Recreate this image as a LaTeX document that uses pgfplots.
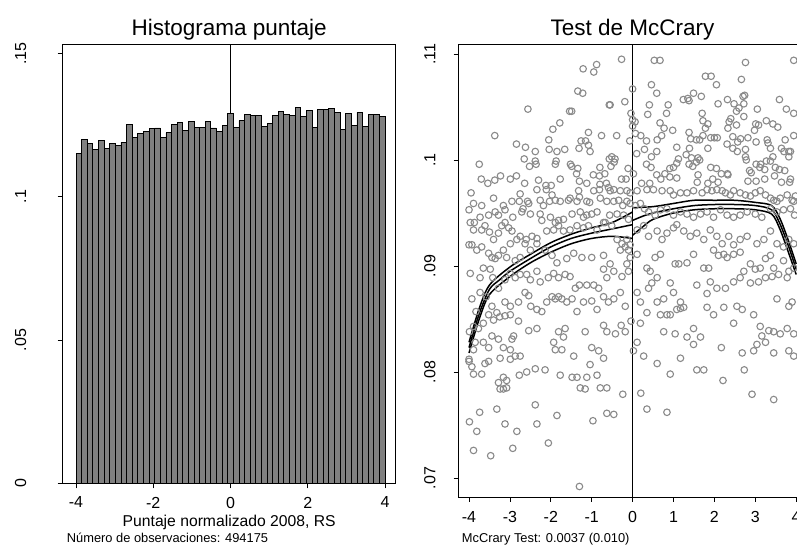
\documentclass[border=0pt]{standalone}
\usepackage{pgfplots}
\pgfplotsset{compat=1.18}
\usepackage{fontspec}
\setmainfont{Liberation Sans}
\definecolor{bargray}{RGB}{128,128,128}
\definecolor{ptgray}{RGB}{138,138,138}
\pgfplotstableread{
x y
-2.56 0.1048
-1.54 0.1046
-1.78 0.1035
-1.95 0.1029
-3.37 0.1023
-2.05 0.1019
-2.84 0.1015
-2.62 0.1012
-2.38 0.1008
-2.04 0.1010
-1.85 0.1008
-1.66 0.1010
-3.75 0.0996
-2.65 0.1001
-2.38 0.0999
-2.52 0.0994
-2.36 0.0996
-1.87 0.0999
-1.89 0.0996
-1.52 0.0996
-3.70 0.0982
-3.54 0.0978
-3.37 0.0981
-3.23 0.0985
-2.99 0.0982
-2.84 0.0985
-2.64 0.0978
-2.30 0.0981
-2.12 0.0976
-1.99 0.0976
-1.77 0.0982
-0.27 0.1095
-1.21 0.1086
-0.95 0.1083
-0.88 0.1090
0.53 0.1094
0.67 0.1094
0.00 0.1067
0.46 0.1071
0.59 0.1063
-1.34 0.1065
-1.22 0.1063
-0.19 0.1055
-0.57 0.1052
-0.55 0.1052
0.41 0.1052
0.87 0.1052
1.24 0.1057
-1.49 0.1046
-0.04 0.1044
0.83 0.1044
0.00 0.1038
0.06 0.1036
0.37 0.1043
0.67 0.1035
0.00 0.1032
0.77 0.1030
0.98 0.1028
-1.08 0.1026
-0.76 0.1023
-0.39 0.1023
0.07 0.1025
0.20 0.1023
0.60 0.1019
0.71 0.1023
-1.26 0.1018
-1.15 0.1018
-0.07 0.1018
0.34 0.1018
-1.31 0.1011
-1.08 0.1014
0.29 0.1010
1.08 0.1012
-1.04 0.1008
0.10 0.1006
0.59 0.1008
-0.51 0.1003
-0.43 0.1001
-0.57 0.1001
-0.45 0.0998
-0.53 0.0994
0.46 0.1003
-1.49 0.0994
-1.34 0.0992
0.34 0.0996
0.45 0.0993
1.12 0.1001
1.08 0.0997
1.00 0.0993
0.91 0.0992
-0.80 0.0993
-0.96 0.0986
-0.81 0.0985
-0.68 0.0987
-0.11 0.0992
-1.37 0.0987
0.59 0.0986
0.69 0.0982
0.79 0.0987
0.91 0.0984
1.08 0.0983
-0.27 0.0982
-0.16 0.0982
0.02 0.0987
-1.30 0.0980
-1.12 0.0978
-0.64 0.0978
-0.80 0.0977
0.22 0.0978
0.42 0.0978
2.76 0.1092
3.94 0.1094
1.78 0.1079
1.92 0.1079
2.05 0.1071
2.66 0.1076
2.70 0.1060
2.74 0.1061
1.38 0.1056
1.49 0.1063
1.68 0.1060
1.35 0.1058
2.09 0.1053
2.32 0.1057
2.48 0.1053
2.60 0.1049
2.72 0.1053
3.05 0.1048
3.59 0.1057
3.76 0.1048
3.94 0.1044
1.70 0.1044
1.72 0.1037
1.84 0.1034
1.78 0.1030
2.54 0.1046
2.72 0.1041
2.40 0.1039
2.36 0.1036
2.33 0.1030
2.54 0.1033
3.01 0.1034
3.08 0.1033
2.98 0.1028
3.27 0.1037
3.43 0.1034
3.55 0.1031
3.94 0.1023
3.73 0.1019
3.82 0.1008
3.86 0.1008
1.38 0.1026
1.42 0.1020
1.56 0.1019
1.64 0.1019
1.72 0.1023
1.91 0.1021
2.00 0.1021
2.07 0.1021
2.45 0.1022
2.64 0.1020
2.82 0.1021
2.57 0.1017
3.02 0.1017
3.29 0.1019
3.31 0.1016
3.37 0.1011
3.64 0.1011
3.70 0.1008
3.82 0.1003
1.84 0.1011
2.31 0.1015
2.45 0.1011
2.56 0.1008
2.76 0.1010
2.76 0.1003
2.78 0.1000
1.39 0.1011
1.31 0.1005
1.44 0.1002
1.60 0.1002
1.56 0.0998
1.64 0.1000
1.38 0.0996
1.47 0.0994
1.91 0.0993
2.05 0.0992
2.17 0.0987
2.32 0.0987
3.02 0.0996
3.11 0.0993
3.27 0.0999
3.37 0.0999
3.43 0.1003
3.13 0.0996
2.86 0.0990
2.90 0.0988
3.23 0.0991
3.49 0.0993
3.59 0.0991
3.72 0.0990
3.86 0.0982
3.84 0.0979
1.60 0.0986
1.58 0.0979
1.84 0.0978
1.96 0.0982
2.09 0.0979
2.33 0.0986
2.82 0.0980
3.02 0.0980
3.23 0.0982
3.47 0.0985
3.64 0.0979
-3.95 0.0969
-3.40 0.0964
-3.16 0.0957
-2.75 0.0968
-2.57 0.0961
-1.97 0.0967
-1.53 0.0964
-1.32 0.0971
-1.30 0.0965
-0.95 0.0971
-0.81 0.0972
-0.59 0.0974
-0.55 0.0971
-0.46 0.0972
-0.30 0.0971
-0.14 0.0971
-0.06 0.0969
-2.34 0.0972
-2.11 0.0972
-3.89 0.0959
-3.69 0.0957
-3.12 0.0953
-2.95 0.0961
-2.77 0.0961
-2.54 0.0959
-2.68 0.0954
-2.26 0.0962
-2.18 0.0957
-2.03 0.0961
-1.89 0.0962
-1.77 0.0961
-1.57 0.0962
-1.36 0.0961
-1.12 0.0961
-1.05 0.0960
-0.79 0.0964
-0.63 0.0961
-0.46 0.0961
-0.34 0.0962
-0.24 0.0957
-0.14 0.0961
-0.06 0.0959
-4.00 0.0953
-3.87 0.0941
-3.97 0.0941
-3.73 0.0946
-3.52 0.0948
-3.36 0.0951
-3.28 0.0948
-3.12 0.0941
-2.93 0.0946
-2.71 0.0951
-2.50 0.0949
-2.26 0.0949
-2.22 0.0943
-2.01 0.0946
-1.89 0.0941
-1.81 0.0943
-1.69 0.0944
-1.48 0.0949
-1.28 0.0951
-1.20 0.0946
-1.12 0.0948
-1.00 0.0949
-0.87 0.0951
-0.71 0.0941
-0.56 0.0948
-0.38 0.0949
-0.22 0.0948
-0.10 0.0944
-3.89 0.0934
-3.69 0.0934
-3.61 0.0938
-3.50 0.0932
-3.40 0.0925
-3.20 0.0938
-3.28 0.0931
-3.03 0.0936
-2.95 0.0933
-2.83 0.0925
-2.75 0.0928
-2.60 0.0925
-2.46 0.0928
-2.34 0.0926
-2.10 0.0933
-1.93 0.0934
-1.81 0.0938
-1.69 0.0933
-1.53 0.0934
-1.36 0.0938
-1.20 0.0936
-1.08 0.0938
-0.87 0.0934
-0.67 0.0941
-0.51 0.0938
-0.38 0.0925
-0.26 0.0921
-0.14 0.0925
-0.06 0.0920
-4.00 0.0920
-3.93 0.0920
-3.81 0.0915
-3.69 0.0918
-3.52 0.0912
-3.44 0.0908
-3.36 0.0907
-3.28 0.0910
-3.16 0.0915
-3.08 0.0908
-2.99 0.0921
-2.87 0.0905
-2.75 0.0908
-2.63 0.0921
-2.50 0.0915
-2.34 0.0921
-2.14 0.0915
-1.97 0.0910
-1.85 0.0903
-1.61 0.0907
-1.44 0.0912
-1.24 0.0908
-1.00 0.0908
-0.71 0.0910
-0.55 0.0902
-0.30 0.0915
-0.18 0.0918
-0.10 0.0915
-0.06 0.0908
-3.97 0.0893
-3.73 0.0889
-3.65 0.0898
-3.48 0.0897
-3.42 0.0889
-3.28 0.0879
-3.12 0.0887
-2.99 0.0893
-2.87 0.0889
-2.75 0.0892
-2.59 0.0892
-2.50 0.0887
-2.34 0.0895
-2.26 0.0885
-2.06 0.0889
-1.93 0.0893
-1.81 0.0889
-1.65 0.0892
-1.53 0.0890
-1.40 0.0879
-1.30 0.0882
-1.12 0.0882
-0.95 0.0882
-0.83 0.0879
-0.71 0.0897
-0.63 0.0889
-0.46 0.0895
-0.26 0.0890
-0.14 0.0902
-0.10 0.0895
-3.93 0.0869
-3.83 0.0857
-3.73 0.0875
-3.58 0.0871
-3.44 0.0862
-3.32 0.0856
-3.12 0.0866
-2.99 0.0862
-2.79 0.0866
-2.63 0.0875
-2.54 0.0872
-2.49 0.0862
-2.34 0.0859
-2.22 0.0857
-2.10 0.0866
-1.97 0.0871
-1.89 0.0869
-1.81 0.0871
-1.73 0.0869
-1.61 0.0866
-1.48 0.0869
-1.36 0.0857
-1.20 0.0866
-1.00 0.0867
-0.87 0.0859
-0.71 0.0871
-0.59 0.0866
-0.46 0.0869
-0.30 0.0875
-0.18 0.0862
-3.99 0.0838
-3.89 0.0843
-3.77 0.0841
-3.65 0.0846
-3.52 0.0854
-3.40 0.0849
-3.25 0.0852
-3.12 0.0853
-2.99 0.0854
-2.91 0.0834
-2.79 0.0848
-2.54 0.0839
-2.34 0.0841
-1.81 0.0838
-1.65 0.0841
-1.16 0.0838
-0.71 0.0844
-0.63 0.0838
-0.42 0.0836
-0.28 0.0844
-0.18 0.0838
-0.04 0.0848
-4.00 0.0812
-3.89 0.0821
-3.85 0.0828
-3.65 0.0828
-3.52 0.0823
-3.44 0.0834
-3.28 0.0831
-3.16 0.0823
-2.99 0.0821
-2.95 0.0831
-2.87 0.0815
-2.75 0.0815
-1.93 0.0828
-1.89 0.0821
-1.73 0.0821
-1.69 0.0833
-1.44 0.0815
-1.00 0.0823
-0.83 0.0820
-0.71 0.0813
-4.00 0.0810
-3.93 0.0805
-3.89 0.0798
-3.69 0.0798
-3.61 0.0808
-3.52 0.0810
-3.24 0.0813
-3.16 0.0795
-3.08 0.0792
-2.99 0.0812
-2.77 0.0797
-2.59 0.0800
-2.38 0.0803
-2.14 0.0802
-1.77 0.0797
-1.48 0.0795
-1.36 0.0795
-1.12 0.0795
-1.04 0.0807
-0.87 0.0797
-3.28 0.0790
-3.24 0.0784
-3.16 0.0784
-3.08 0.0785
-1.28 0.0785
-1.16 0.0784
-0.79 0.0785
-0.63 0.0785
-0.24 0.0779
-3.74 0.0762
-3.32 0.0765
-2.38 0.0769
-1.85 0.0759
-0.63 0.0761
-0.46 0.0760
-3.99 0.0753
-3.81 0.0744
-3.12 0.0751
-2.83 0.0744
-2.34 0.0751
-0.97 0.0754
-2.06 0.0733
-3.89 0.0726
-3.47 0.0721
-2.93 0.0728
-1.30 0.0692
0.11 0.0971
0.35 0.0972
0.51 0.0972
0.72 0.0971
0.92 0.0971
1.00 0.0967
1.17 0.0969
1.33 0.0969
1.49 0.0971
1.70 0.0969
1.82 0.0972
1.94 0.0971
2.06 0.0972
2.19 0.0971
2.27 0.0969
2.39 0.0967
2.47 0.0971
2.63 0.0969
2.76 0.0967
2.88 0.0966
3.00 0.0969
3.12 0.0971
3.25 0.0967
3.37 0.0964
3.45 0.0962
3.53 0.0961
3.61 0.0964
3.78 0.0967
3.90 0.0962
3.98 0.0966
0.07 0.0957
0.19 0.0959
0.29 0.0954
0.39 0.0951
0.55 0.0948
0.68 0.0953
0.84 0.0954
1.00 0.0948
1.17 0.0951
1.33 0.0949
1.49 0.0946
1.66 0.0949
1.82 0.0951
1.98 0.0946
2.15 0.0953
2.31 0.0948
2.47 0.0946
2.63 0.0948
2.80 0.0951
3.00 0.0949
3.16 0.0946
3.37 0.0954
3.53 0.0951
3.69 0.0953
3.86 0.0954
3.96 0.0948
3.94 0.0961
0.11 0.0934
0.27 0.0938
0.39 0.0928
0.60 0.0933
0.72 0.0925
0.84 0.0931
1.00 0.0936
1.08 0.0939
1.25 0.0933
1.41 0.0928
1.57 0.0931
1.74 0.0925
1.90 0.0934
2.06 0.0928
2.19 0.0921
2.35 0.0928
2.47 0.0920
2.63 0.0925
2.80 0.0928
3.04 0.0921
3.21 0.0925
3.37 0.0933
3.53 0.0921
3.69 0.0918
3.82 0.0925
3.94 0.0921
0.11 0.0911
0.35 0.0898
0.43 0.0895
0.55 0.0908
0.68 0.0911
1.04 0.0902
1.13 0.0902
1.33 0.0903
1.49 0.0911
1.74 0.0898
1.86 0.0898
1.98 0.0915
2.10 0.0910
2.23 0.0911
2.31 0.0908
2.47 0.0911
2.63 0.0913
2.72 0.0895
2.88 0.0902
3.00 0.0897
3.12 0.0898
3.25 0.0907
3.37 0.0910
3.45 0.0898
3.57 0.0892
3.69 0.0905
3.82 0.0895
3.94 0.0898
0.11 0.0875
0.19 0.0866
0.39 0.0879
0.47 0.0884
0.60 0.0889
0.76 0.0869
0.92 0.0884
1.00 0.0875
1.17 0.0866
1.57 0.0882
1.82 0.0874
1.90 0.0885
2.06 0.0879
2.27 0.0879
2.47 0.0885
2.63 0.0889
2.88 0.0884
3.08 0.0885
3.25 0.0889
3.41 0.0890
3.53 0.0869
3.78 0.0889
3.82 0.0862
3.90 0.0866
0.19 0.0846
0.35 0.0856
0.60 0.0866
0.68 0.0854
0.84 0.0854
0.92 0.0854
1.08 0.0859
1.17 0.0860
1.25 0.0861
1.49 0.0841
1.82 0.0861
1.98 0.0854
2.23 0.0861
2.47 0.0846
2.55 0.0862
2.68 0.0859
2.96 0.0854
3.12 0.0843
3.16 0.0834
3.33 0.0839
3.45 0.0838
3.61 0.0836
3.78 0.0841
3.94 0.0836
0.11 0.0828
0.02 0.0820
0.27 0.0815
0.60 0.0808
0.76 0.0838
1.04 0.0836
1.17 0.0813
1.33 0.0833
1.49 0.0826
1.66 0.0833
2.17 0.0823
2.68 0.0818
2.96 0.0820
3.04 0.0826
3.25 0.0828
3.45 0.0818
3.82 0.0820
3.94 0.0815
0.92 0.0798
1.57 0.0802
1.74 0.0802
2.21 0.0792
2.73 0.0802
2.92 0.0779
3.45 0.0774
0.20 0.0780
0.35 0.0765
0.84 0.0762
}\pts
\begin{document}
\begin{tikzpicture}
\begin{axis}[at={(62.7pt,61.7pt)}, anchor=south west, scale only axis,
 width=333pt, height=439.3pt,
 xmin=-4.345, xmax=4.277, ymin=0, ymax=0.15328,
 axis line style={black, line width=0.8pt},
 tick style={black, line width=0.8pt}, tick align=outside, tick pos=left,
 major tick length=5pt,
 xtick={-4,-2,0,2,4}, xticklabels={-4,-2,0,2,4},
 ytick={0,0.05,0.1,0.15}, yticklabels={0,.05,.1,.15},
 ticklabel style={font=\fontsize{16}{16}\selectfont},
 xticklabel style={yshift=-5pt},
 yticklabel style={rotate=90, anchor=south, yshift=28pt},
 title={Histograma puntaje},
 title style={font=\fontsize{22.5}{27}\selectfont, at={(0.5,1)}, anchor=base, yshift=2pt},
 xlabel={Puntaje normalizado 2008, RS},
 xlabel style={font=\fontsize{15.7}{16}\selectfont, at={(axis description cs:0.5,0)}, anchor=base, yshift=-43.5pt},
]
\addplot[black, line width=0.8pt] coordinates {(0,0) (0,0.15328)};
\addplot[ybar interval, fill=bargray, draw=black, line width=0.8pt] coordinates {
(-4.0000,0.1151) (-3.8545,0.1201) (-3.7091,0.1186) (-3.5636,0.1165) (-3.4182,0.1196)
(-3.2727,0.1168) (-3.1273,0.1185) (-2.9818,0.1178) (-2.8364,0.1190) (-2.6909,0.1253)
(-2.5455,0.1208) (-2.4000,0.1221) (-2.2545,0.1227) (-2.1091,0.1237) (-1.9636,0.1240)
(-1.8182,0.1208) (-1.6727,0.1223) (-1.5273,0.1251) (-1.3818,0.1260) (-1.2364,0.1230)
(-1.0909,0.1263) (-0.9455,0.1241) (-0.8000,0.1243) (-0.6545,0.1262) (-0.5091,0.1240)
(-0.3636,0.1227) (-0.2182,0.1250) (-0.0727,0.1289) (0.0727,0.1241) (0.2182,0.1265)
(0.3636,0.1286) (0.5091,0.1283) (0.6545,0.1283) (0.8000,0.1244) (0.9455,0.1257)
(1.0909,0.1283) (1.2364,0.1296) (1.3818,0.1288) (1.5273,0.1284) (1.6727,0.1312)
(1.8182,0.1281) (1.9636,0.1300) (2.1091,0.1242) (2.2545,0.1303) (2.4000,0.1305)
(2.5455,0.1307) (2.6909,0.1294) (2.8364,0.1235) (2.9818,0.1291) (3.1273,0.1249)
(3.2727,0.1294) (3.4182,0.1244) (3.5636,0.1286) (3.7091,0.1286) (3.8545,0.1279)
(4.0000,0.1279)};
\end{axis}
\begin{axis}[at={(458.5pt,48pt)}, anchor=south west, scale only axis,
 width=348.2pt, height=453pt,
 xmin=-4.257, xmax=4.257, ymin=0.068208, ymax=0.110943,
 axis line style={black, line width=0.8pt},
 tick style={black, line width=0.8pt}, tick align=outside, tick pos=left,
 major tick length=5pt,
 xtick={-4,-3,-2,-1,0,1,2,3,4}, xticklabels={-4,-3,-2,-1,0,1,2,3,4},
 ytick={0.07,0.08,0.09,0.1,0.11}, yticklabels={.07,.08,.09,.1,.11},
 ticklabel style={font=\fontsize{16}{16}\selectfont},
 xticklabel style={yshift=-6pt},
 yticklabel style={rotate=90, anchor=south, yshift=14.5pt},
 title={Test de McCrary},
 title style={font=\fontsize{22.5}{27}\selectfont, at={(0.5,1)}, anchor=base, yshift=2pt},
]
\addplot[only marks, mark=o, mark size=3.3pt, ptgray, line width=1.1pt] table[x=x,y=y] {\pts};
\addplot[black, line width=1.5pt, smooth] coordinates {(-4,0.0823) (-3.75,0.0855) (-3.5,0.0878) (-3.25,0.0887) (-3,0.0895) (-2.5,0.0907) (-2,0.0918) (-1.5,0.0926) (-1,0.0931) (-0.5,0.0935) (0,0.0939)};
\addplot[black, line width=1.5pt, smooth] coordinates {(-4,0.0828) (-3.75,0.0860) (-3.5,0.0882) (-3,0.0899) (-2.5,0.0911) (-2,0.0922) (-1.5,0.0930) (-1,0.0936) (-0.5,0.0941) (0,0.0951)};
\addplot[black, line width=1.5pt, smooth] coordinates {(-4,0.0818) (-3.75,0.0850) (-3.5,0.0873) (-3,0.0890) (-2.5,0.0903) (-2,0.0913) (-1.5,0.0921) (-1,0.0926) (-0.5,0.0928) (0,0.0926)};
\addplot[black, line width=1.5pt, smooth] coordinates {(0,0.0943) (0.25,0.0947) (0.5,0.0950) (1,0.0954) (1.5,0.0957) (2,0.0958) (2.5,0.0958) (3,0.0957) (3.4,0.0953) (3.6,0.0940) (3.8,0.0920) (4,0.0897)};
\addplot[black, line width=1.5pt, smooth] coordinates {(0,0.0955) (0.5,0.0956) (1,0.0959) (1.5,0.0962) (2,0.0962) (2.5,0.0962) (3,0.0960) (3.4,0.0957) (3.6,0.0945) (3.8,0.0925) (4,0.0902)};
\addplot[black, line width=1.5pt, smooth] coordinates {(0,0.0929) (0.25,0.0937) (0.5,0.0944) (1,0.0950) (1.5,0.0953) (2,0.0954) (2.5,0.0954) (3,0.0953) (3.4,0.0949) (3.6,0.0935) (3.8,0.0914) (4,0.0892)};
\addplot[black, line width=0.8pt] coordinates {(0,0.068208) (0,0.110943)};
\end{axis}
\node[anchor=base west, inner sep=0pt, font=\fontsize{12.85}{13}\selectfont] at (66.7pt,2pt) {Número de observaciones: 494175};
\node[anchor=base west, inner sep=0pt, font=\fontsize{12.85}{13}\selectfont] at (461.7pt,2pt) {McCrary Test: 0.0037 (0.010)};
\pgfresetboundingbox
\path[use as bounding box] (0pt,0pt) rectangle (797pt,545pt);
\end{tikzpicture}
\end{document}
